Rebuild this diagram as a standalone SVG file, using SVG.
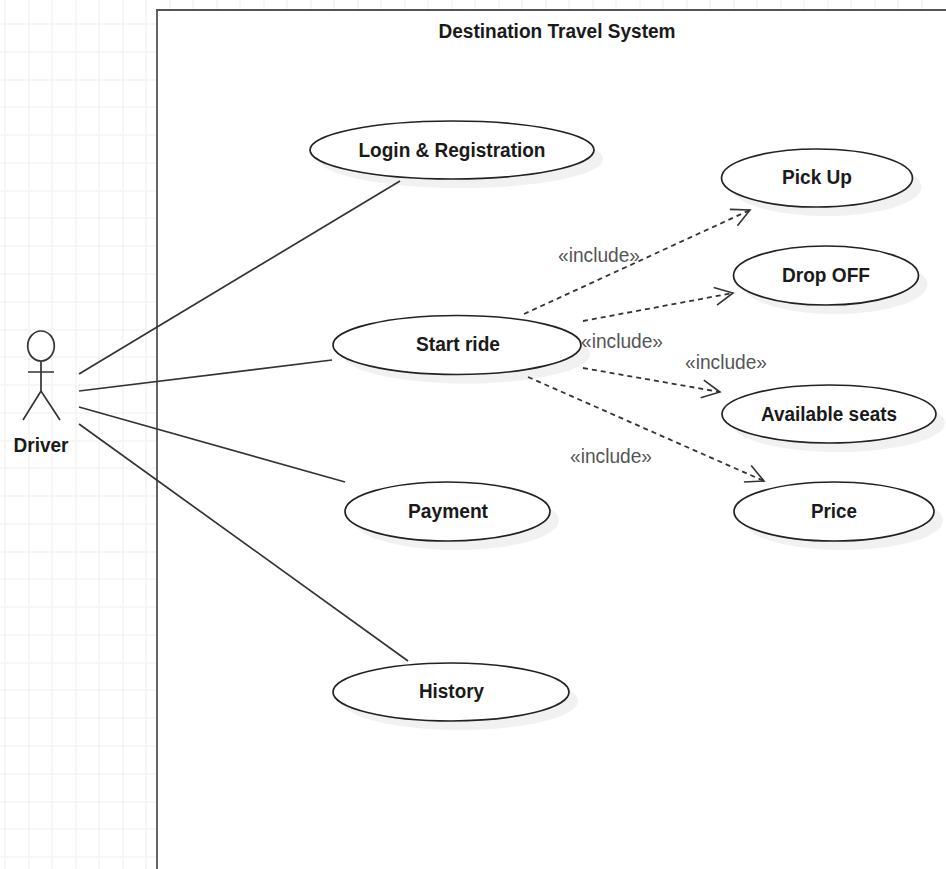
<svg xmlns="http://www.w3.org/2000/svg" width="946" height="869" viewBox="0 0 946 869">
<style>
text{font-family:"Liberation Sans",Arial,sans-serif;text-anchor:middle}
.g{stroke:#f3f3f3;stroke-width:1.5;fill:none}
.u{fill:#fff;stroke:#222;stroke-width:1.7}
.s{fill:#f1f1f1;stroke:none}
.t{font-size:20px;font-weight:bold;fill:#1a1a1a}
.i{font-size:20px;fill:#555}
.l{stroke:#333;stroke-width:1.7;fill:none}
.d{stroke:#333;stroke-width:1.8;fill:none;stroke-dasharray:5 4}
</style>
<defs>
<marker id="open" markerUnits="userSpaceOnUse" markerWidth="34" markerHeight="26" refX="30" refY="13" orient="auto">
<path d="M12 4 L30 13 L12 22" fill="none" stroke="#333" stroke-width="1.6"/>
</marker>
</defs>
<rect width="946" height="869" fill="#fff"/>
<g id="grid">
<path class="g" d="M5 0V869M29 0V869M52 0V869M76 0V869M99 0V869M123 0V869M146 0V869M170 0V10M193 0V10M217 0V10M240 0V10M264 0V10M287 0V10M311 0V10M334 0V10M358 0V10M381 0V10M405 0V10M428 0V10M452 0V10M475 0V10M499 0V10M522 0V10M546 0V10M569 0V10M593 0V10M616 0V10M640 0V10M663 0V10M687 0V10M710 0V10M734 0V10M757 0V10M781 0V10M804 0V10M828 0V10M851 0V10M875 0V10M898 0V10M922 0V10"/>
<path class="g" d="M0 24H157M0 52H157M0 80H157M0 107H157M0 135H157M0 163H157M0 191H157M0 218H157M0 246H157M0 274H157M0 302H157M0 330H157M0 357H157M0 385H157M0 413H157M0 441H157M0 468H157M0 496H157M0 524H157M0 552H157M0 579H157M0 607H157M0 635H157M0 663H157M0 690H157M0 718H157M0 746H157M0 774H157M0 802H157M0 829H157M0 857H157"/>
</g>
<g id="system">
<path d="M157 869V10H946V869Z" fill="#fff" stroke="none"/>
<path d="M157 869V10H946" fill="none" stroke="#555" stroke-width="1.8"/>
<text class="t" x="557" y="38" textLength="237" lengthAdjust="spacingAndGlyphs">Destination Travel System</text>
</g>
<g id="driver">
<ellipse cx="41" cy="346" rx="13.3" ry="15" fill="none" stroke="#333" stroke-width="1.7"/>
<path class="l" d="M41 361V391M28 372H54M23 420L41 391L60 420"/>
<text class="t" x="41" y="452" textLength="55" lengthAdjust="spacingAndGlyphs">Driver</text>
</g>
<g id="login"><ellipse class="s" cx="461" cy="159" rx="142" ry="29"/><ellipse class="u" cx="452" cy="150" rx="142" ry="29"/><text class="t" x="452" y="157" textLength="187" lengthAdjust="spacingAndGlyphs">Login &amp; Registration</text></g>
<g id="start-ride"><ellipse class="s" cx="466" cy="354" rx="124" ry="29.5"/><ellipse class="u" cx="457" cy="345" rx="124" ry="29.5"/><text class="t" x="458" y="351" textLength="84" lengthAdjust="spacingAndGlyphs">Start ride</text></g>
<g id="payment"><ellipse class="s" cx="456.500" cy="520.500" rx="102.500" ry="29.500"/><ellipse class="u" cx="447.500" cy="511.500" rx="102.500" ry="29.500"/><text class="t" x="448" y="518" textLength="80" lengthAdjust="spacingAndGlyphs">Payment</text></g>
<g id="history"><ellipse class="s" cx="460" cy="701" rx="118" ry="29"/><ellipse class="u" cx="451" cy="692" rx="118" ry="29"/><text class="t" x="451.500" y="698" textLength="65" lengthAdjust="spacingAndGlyphs">History</text></g>
<g id="pick-up"><ellipse class="s" cx="826" cy="187" rx="95.500" ry="29"/><ellipse class="u" cx="817" cy="178" rx="95.500" ry="29"/><text class="t" x="817" y="184" textLength="70" lengthAdjust="spacingAndGlyphs">Pick Up</text></g>
<g id="drop-off"><ellipse class="s" cx="835" cy="284.500" rx="92.500" ry="29.500"/><ellipse class="u" cx="826" cy="275.500" rx="92.500" ry="29.500"/><text class="t" x="826" y="282" textLength="88" lengthAdjust="spacingAndGlyphs">Drop OFF</text></g>
<g id="available-seats"><ellipse class="s" cx="838" cy="423" rx="107" ry="29"/><ellipse class="u" cx="829" cy="414" rx="107" ry="29"/><text class="t" x="829" y="421" textLength="136" lengthAdjust="spacingAndGlyphs">Available seats</text></g>
<g id="price"><ellipse class="s" cx="843" cy="520.500" rx="100" ry="29.500"/><ellipse class="u" cx="834" cy="511.500" rx="100" ry="29.500"/><text class="t" x="834" y="518" textLength="46" lengthAdjust="spacingAndGlyphs">Price</text></g>
<g id="connectors">
<path class="l" d="M79 374L400 181"/>
<path class="l" d="M79 391L332 360"/>
<path class="l" d="M79 407L345 482"/>
<path class="l" d="M79 424L408 661"/>
<path class="d" d="M524 314L750 210" marker-end="url(#open)"/>
<path class="d" d="M583 321L733 293" marker-end="url(#open)"/>
<path class="d" d="M583 368L720 392" marker-end="url(#open)"/>
<path class="d" d="M528 377L764 481" marker-end="url(#open)"/>
</g>
<g id="labels">
<text class="i" x="599" y="262" textLength="82" lengthAdjust="spacingAndGlyphs">«include»</text>
<text class="i" x="622" y="348" textLength="82" lengthAdjust="spacingAndGlyphs">«include»</text>
<text class="i" x="726" y="369" textLength="82" lengthAdjust="spacingAndGlyphs">«include»</text>
<text class="i" x="611" y="463" textLength="82" lengthAdjust="spacingAndGlyphs">«include»</text>
</g>
</svg>
